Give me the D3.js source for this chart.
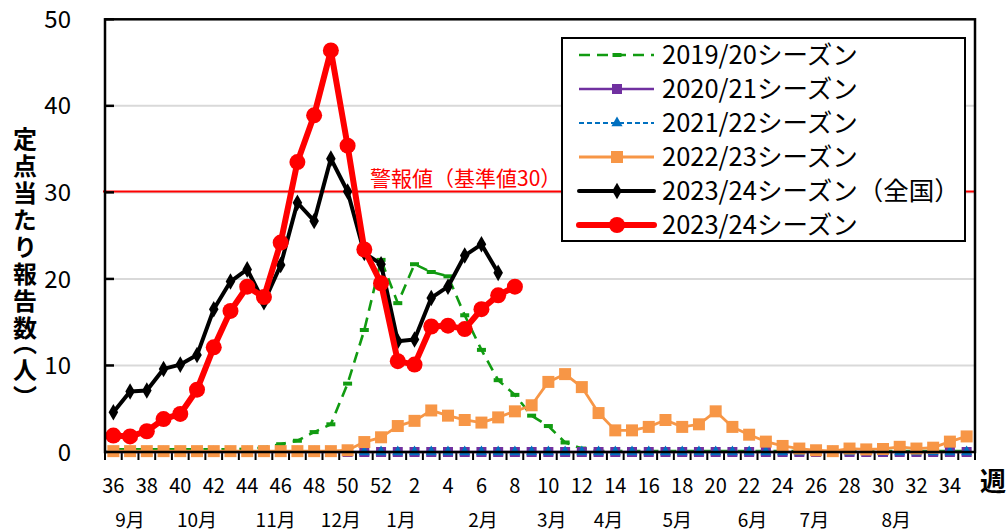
<!DOCTYPE html>
<html><head><meta charset="utf-8">
<script src="https://cdn.jsdelivr.net/npm/d3@7"></script>
<style>
body{margin:0;background:#fff;}
svg{display:block;font-family:"Noto Sans CJK JP","Noto Sans",sans-serif;}
</style></head>
<body><svg id="c" width="1008" height="531"></svg>
<script>
// ---- data ----
const weeks = [36,37,38,39,40,41,42,43,44,45,46,47,48,49,50,51,52,
  1,2,3,4,5,6,7,8,9,10,11,12,13,14,15,16,17,18,19,20,21,22,23,24,25,26,27,28,29,30,31,32,33,34,35];
const yTicks = [0,10,20,30,40,50];
const alarmValue = 30;
const alarmLabel = "警報値（基準値30）";
const monthNames = ["9月","10月","11月","12月","1月","2月","3月","4月","5月","6月","7月","8月"];
const monthAt = [1,5,9.7,13.6,17.2,22.1,26.2,29.6,33.7,38.2,41.9,46.8]; // category index where label sits

const s1920 = [0.3,0.3,0.3,0.3,0.3,0.3,0.3,0.3,0.4,0.5,0.9,1.3,2.3,3.2,7.9,14.1,22.2,17.2,21.7,20.8,20.3,15.8,11.8,8.3,6.6,4.2,3.0,1.1,0.4,
  0.1,0.1,0.1,0.1,0.1,0.1,0.1,0.1,0.1,0.1,0.1,0.1,0.1,0.1,0.1,0.1,0.1,0.1,0.1,0.1,0.1,0.1,0.1];
const s2021 = [0,0,0,0,0,0,0,0,0,0,0,0,0,0,0,0,0,0,0,0,0,0,0,0,0,0,0,0,0,0,0,0,0,0,0,0,0,0,0,0,0,0,0,0,0,0,0,0,0,0,0,0];
const s2122 = [0,0,0,0,0,0,0,0,0,0,0,0,0,0,0,0,0,0,0,0,0,0,0,0,0,0,0,0,0,0,0,0,0,0,0,0,0,0,0,0,0,0,0,0,0,0,0,0,0,0,0,0];
const s2223 = [0.1,0.1,0.1,0.1,0.1,0.1,0.1,0.1,0.1,0.1,0.1,0.1,0.1,0.1,0.2,1.15,1.7,3.0,3.6,4.8,4.2,3.7,3.4,4.0,4.7,5.4,8.1,9.0,7.5,
  4.5,2.5,2.5,2.9,3.7,2.9,3.2,4.7,2.9,2.0,1.2,0.7,0.4,0.2,0.1,0.4,0.3,0.35,0.6,0.4,0.5,1.2,1.8];
const s2324nat = [4.6,7.0,7.1,9.6,10.1,11.2,16.5,19.7,21.1,17.3,21.6,28.8,26.7,33.9,30.1,23.0,21.7,12.8,13.0,17.8,19.1,22.7,24.0,20.7];
const s2324 = [1.9,1.8,2.4,3.8,4.4,7.2,12.1,16.3,19.1,17.9,24.2,33.5,38.9,46.4,35.4,23.4,19.5,10.5,10.1,14.5,14.6,14.2,16.5,18.1,19.1];

const seriesNames = ["2019/20シーズン","2020/21シーズン","2021/22シーズン","2022/23シーズン","2023/24シーズン（全国）","2023/24シーズン"];

// ---- styles ----
const styles = [
  {data:s1920, color:"#119b11", width:2.6, dash:"11,7", marker:"dash", size:9},
  {data:s2021, color:"#7030a0", width:2.6, dash:null, marker:"square", size:10},
  {data:s2122, color:"#0070c0", width:2.2, dash:"5,3", marker:"triangle", size:11},
  {data:s2223, color:"#f79646", width:2.8, dash:null, marker:"square", size:12},
  {data:s2324nat, color:"#000000", width:4, dash:null, marker:"diamond", size:12},
  {data:s2324, color:"#ff0000", width:6, dash:null, marker:"circle", size:16}
];

const svg = d3.select("#c");
const L=105, R=975, T=19.3, B=452;
const x = d3.scaleBand().domain(d3.range(weeks.length)).range([L,R]);
const bw = x.bandwidth();
const cx = i => x(i)+bw/2;
const xi = d3.scaleLinear().domain([0,weeks.length-1]).range([cx(0),cx(weeks.length-1)]);
const y = d3.scaleLinear().domain([0,50]).range([B,T]);

// gridlines
svg.append("g").selectAll("line").data(yTicks.filter(v=>v>0&&v<50)).join("line")
  .attr("x1",L).attr("x2",R).attr("y1",d=>y(d)).attr("y2",d=>y(d))
  .attr("stroke","#d9d9d9").attr("stroke-width",2);

// alarm line
svg.append("line").attr("x1",L-2).attr("x2",R).attr("y1",y(alarmValue)-1).attr("y2",y(alarmValue)-1)
  .attr("stroke","#ff0000").attr("stroke-width",2);
svg.append("text").attr("x",370).attr("y",y(alarmValue)-6).attr("fill","#ff0000")
  .attr("font-size",21).text(alarmLabel);

// x ticks (category boundaries)
svg.append("g").selectAll("line").data(d3.range(weeks.length+1)).join("line")
  .attr("x1",i=>L+i*bw).attr("x2",i=>L+i*bw).attr("y1",B).attr("y2",B+8)
  .attr("stroke","#000").attr("stroke-width",2);
// y ticks inside
svg.append("g").selectAll("line").data(yTicks).join("line")
  .attr("x1",L).attr("x2",L+9).attr("y1",d=>y(d)).attr("y2",d=>y(d))
  .attr("stroke","#000").attr("stroke-width",2.5);

// series
const symbolFor = (m,s)=>{
  if(m==="square") return d3.symbol(d3.symbolSquare, s*s)();
  if(m==="triangle") return d3.symbol(d3.symbolTriangle, s*s*0.45)();
  if(m==="diamond") return d3.symbol(d3.symbolDiamond, s*s*0.55)();
  if(m==="circle") return d3.symbol(d3.symbolCircle, Math.PI*s*s/4)();
  return `M${-s/2},-2H${s/2}V2H${-s/2}Z`;
};
const line = d3.line().x((d,i)=>cx(i)).y(d=>y(d));
const plot = svg.append("g");
styles.forEach(st=>{
  plot.append("path").attr("d",line(st.data)).attr("fill","none")
    .attr("stroke",st.color).attr("stroke-width",st.width)
    .attr("stroke-dasharray",st.dash).attr("stroke-linejoin","round");
  plot.append("g").selectAll("path").data(st.data).join("path")
    .attr("transform",(d,i)=>`translate(${cx(i)},${y(d)})`)
    .attr("d",symbolFor(st.marker,st.size)).attr("fill",st.color);
});

// frame
svg.append("rect").attr("x",L).attr("y",T).attr("width",R-L).attr("height",B-T)
  .attr("fill","none").attr("stroke","#000").attr("stroke-width",2.5);

// y tick labels
svg.append("g").selectAll("text").data(yTicks).join("text")
  .attr("x",71).attr("y",d=>y(d)).attr("dy","0.36em").attr("text-anchor","end")
  .attr("font-size",24).text(d=>d);

// x tick labels
svg.append("g").selectAll("text").data(weeks.map((w,i)=>({w,i})).filter(d=>d.w%2===0)).join("text")
  .attr("x",d=>cx(d.i)).attr("y",493).attr("text-anchor","middle")
  .attr("font-size",20).text(d=>d.w);

// month labels
svg.append("g").selectAll("text").data(monthNames).join("text")
  .attr("x",(d,i)=>xi(monthAt[i])).attr("y",527).attr("text-anchor","middle")
  .attr("font-size",19).text(d=>d);

// axis titles
svg.append("text").attr("x",980).attr("y",491).attr("font-size",26).attr("font-weight","bold").text("週");
svg.append("text").attr("x",25).attr("y",263).attr("text-anchor","middle")
  .style("writing-mode","vertical-rl").style("font-feature-settings","'vhal'")
  .style("letter-spacing","3px")
  .attr("font-size",24).attr("font-weight","bold")
  .text("定点当たり報告数（人）");

// legend
const lg = svg.append("g");
lg.append("rect").attr("x",562).attr("y",38).attr("width",403).attr("height",203)
  .attr("fill","#fff").attr("stroke","#000").attr("stroke-width",2);
styles.forEach((st,k)=>{
  const yy = 55 + k*34;
  lg.append("line").attr("x1",579).attr("x2",654).attr("y1",yy).attr("y2",yy)
    .attr("stroke",st.color).attr("stroke-width",st.width).attr("stroke-dasharray",st.dash)
    .attr("stroke-linecap", st.width>=4?"round":"butt");
  lg.append("path").attr("transform",`translate(617,${yy})`)
    .attr("d",symbolFor(st.marker,st.size)).attr("fill",st.color);
  lg.append("text").attr("x",662).attr("y",yy).attr("dy","0.36em").attr("font-size",25.5)
    .text(seriesNames[k]);
});
</script>
</body></html>
